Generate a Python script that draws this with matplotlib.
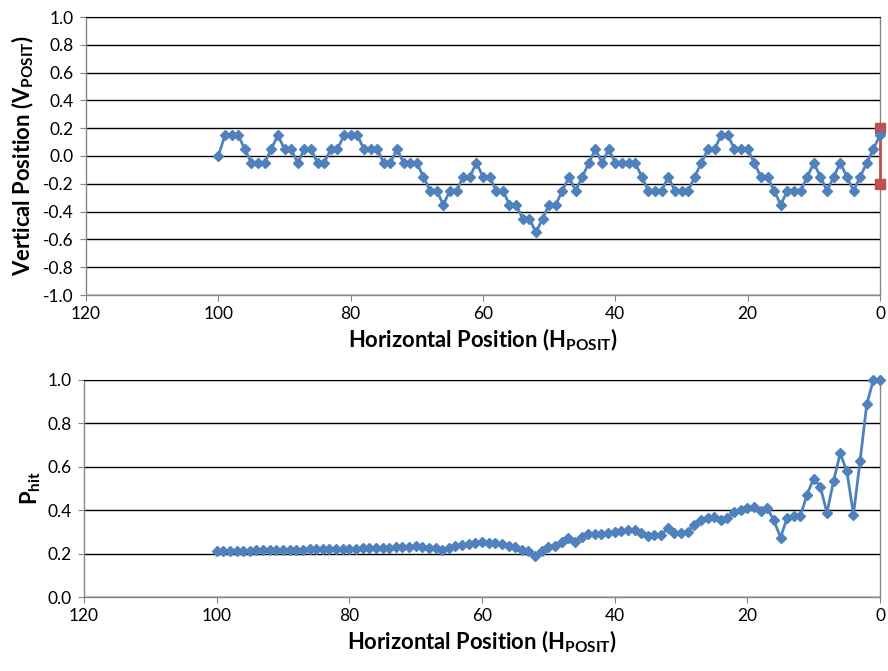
import matplotlib
matplotlib.use('Agg')
import matplotlib.pyplot as plt
from matplotlib.ticker import FormatStrFormatter, MultipleLocator

plt.rcParams['font.family'] = ['Lato', 'DejaVu Sans']
plt.rcParams['mathtext.fontset'] = 'custom'
plt.rcParams['mathtext.rm'] = 'Lato'
plt.rcParams['mathtext.bf'] = 'Lato:bold'

# %% data
h_posit = list(range(100, -1, -1))

v_posit = [0.0,
           0.15, 0.15, 0.15, 0.05, -0.05, -0.05, -0.05, 0.05, 0.15,
           0.05, 0.05, -0.05, 0.05, 0.05, -0.05, -0.05, 0.05, 0.05, 0.15,
           0.15, 0.15, 0.05, 0.05, 0.05, -0.05, -0.05, 0.05, -0.05, -0.05,
           -0.05, -0.15, -0.25, -0.25, -0.35, -0.25, -0.25, -0.15, -0.15, -0.05,
           -0.15, -0.15, -0.25, -0.25, -0.35, -0.35, -0.45, -0.45, -0.55, -0.45,
           -0.35, -0.35, -0.25, -0.15, -0.25, -0.15, -0.05, 0.05, -0.05, 0.05,
           -0.05, -0.05, -0.05, -0.05, -0.15, -0.25, -0.25, -0.25, -0.15, -0.25,
           -0.25, -0.25, -0.15, -0.05, 0.05, 0.05, 0.15, 0.15, 0.05, 0.05,
           0.05, -0.05, -0.15, -0.15, -0.25, -0.35, -0.25, -0.25, -0.25, -0.15,
           -0.05, -0.15, -0.25, -0.15, -0.05, -0.15, -0.25, -0.15, -0.05, 0.05,
           0.15]

p_hit = [0.212, 0.212, 0.213, 0.213, 0.214, 0.214, 0.215, 0.215, 0.216, 0.216,
         0.217, 0.217, 0.218, 0.218, 0.219, 0.219, 0.220, 0.220, 0.221, 0.221,
         0.222, 0.223, 0.224, 0.225, 0.226, 0.227, 0.228, 0.229, 0.231, 0.232,
         0.233, 0.231, 0.228, 0.226, 0.218, 0.228, 0.234, 0.240, 0.245, 0.251,
         0.252, 0.251, 0.247, 0.245, 0.237, 0.231, 0.218, 0.212, 0.189, 0.211,
         0.231, 0.235, 0.254, 0.272, 0.254, 0.277, 0.289, 0.289, 0.292, 0.297,
         0.300, 0.303, 0.308, 0.308, 0.295, 0.280, 0.285, 0.285, 0.318, 0.295,
         0.297, 0.300, 0.334, 0.354, 0.362, 0.369, 0.354, 0.362, 0.392, 0.400,
         0.408, 0.415, 0.395, 0.408, 0.354, 0.274, 0.365, 0.372, 0.374, 0.472,
         0.546, 0.508, 0.388, 0.535, 0.662, 0.580, 0.380, 0.628, 0.888, 1.0,
         1.0]

# target bar at the end of the track
target_h = [0, 0]
target_v = [0.2, -0.2]

blue = '#4F81BD'
red = '#C0504D'
axis_grey = '#868686'


def style_axes(ax, ylo, yhi, ystep):
    ax.set_xlim(120, 0)
    ax.set_ylim(ylo, yhi)
    ax.xaxis.set_major_locator(MultipleLocator(20))
    ax.yaxis.set_major_locator(MultipleLocator(ystep))
    ax.yaxis.set_major_formatter(FormatStrFormatter('%.1f'))
    ax.grid(True, axis='y', color='black', linewidth=1.0)
    ax.set_axisbelow(True)
    for s in ['left', 'right', 'bottom']:
        ax.spines[s].set_color(axis_grey)
        ax.spines[s].set_linewidth(1.0)
    ax.spines['top'].set_color('black')
    ax.tick_params(direction='out', length=4, color=axis_grey, labelsize=12.5, pad=4)
    ax.tick_params(axis='y', pad=5)
    ax.set_xlabel(r'Horizontal Position (H$_\mathbf{POSIT}$)',
                  fontsize=15.8, fontweight='bold', labelpad=3)


fig = plt.figure(figsize=(8.88, 6.71), dpi=100)

# %% top: vertical position
ax1 = fig.add_axes([86 / 888, 1 - 295 / 671, 794 / 888, 278 / 671])
style_axes(ax1, -1.0, 1.0, 0.2)
ax1.plot(target_h, target_v, color=red, linewidth=2, marker='s',
         markersize=7, zorder=3, clip_on=False)
ax1.plot(h_posit, v_posit, color=blue, linewidth=2, marker='D',
         markersize=4.8, zorder=4, clip_on=False)
ax1.set_ylabel(r'Vertical Position (V$_\mathbf{POSIT}$)',
               fontsize=15.8, fontweight='bold', labelpad=5)

# %% bottom: hit probability
ax2 = fig.add_axes([84 / 888, 1 - 597 / 671, 796 / 888, 217 / 671])
style_axes(ax2, 0.0, 1.0, 0.2)
ax2.plot(h_posit, p_hit, color=blue, linewidth=2, marker='D',
         markersize=4.8, zorder=4, clip_on=False)
ax2.set_ylabel(r'P$_\mathbf{hit}$', fontsize=15.8, fontweight='bold', labelpad=3)

fig.savefig('out.png', dpi=100)
